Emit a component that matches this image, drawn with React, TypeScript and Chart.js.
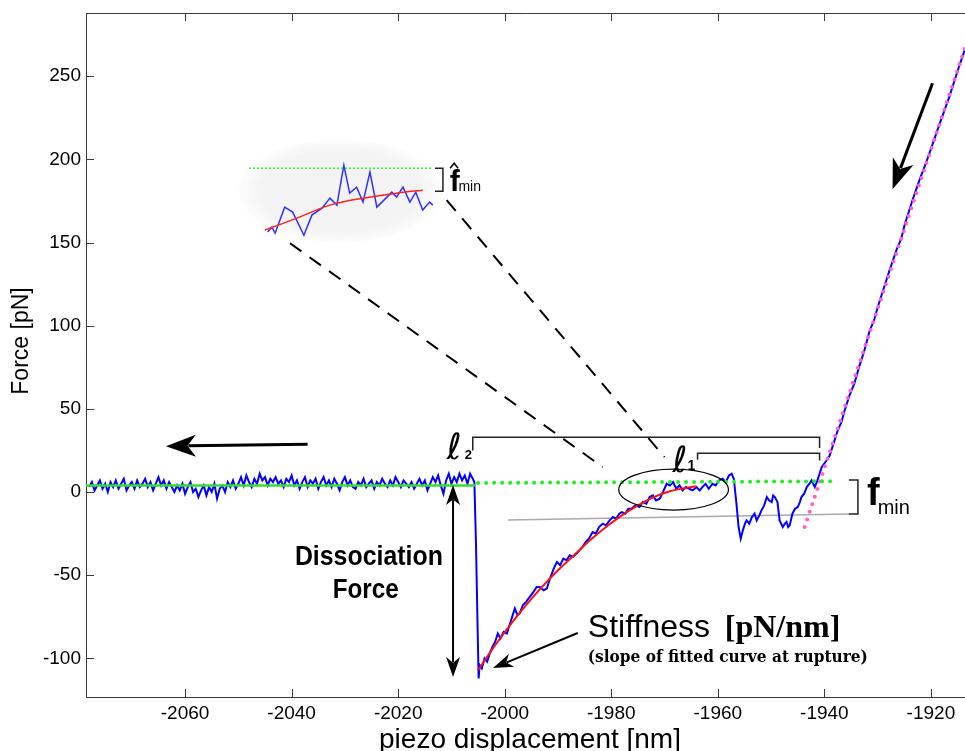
import React, { useEffect, useRef } from "react";
import { Chart, registerables } from "chart.js";
Chart.register(...registerables);

const X_MIN = -2078.6;
const X_MAX = -1913.6;
const Y_MIN = -123.2;
const Y_MAX = 288;
const X_STEP = 20;
const Y_STEP = 50;

// Blue force trace: flat baseline before rupture
const baselineX = [
  -2078, -2077.5, -2077, -2076.5, -2076, -2075.5, -2075, -2074.5, -2074, -2073.5,
  -2073, -2072.5, -2072, -2071.5, -2071, -2070.5, -2070, -2069.5, -2069, -2068.5,
  -2068, -2067.5, -2067, -2066.5, -2066, -2065.5, -2065, -2064.5, -2064, -2063.5,
  -2063, -2062.5, -2062, -2061.5, -2061, -2060.5, -2060, -2059.5, -2059, -2058.5,
  -2058, -2057.5, -2057, -2056.5, -2056, -2055.5, -2055, -2054.5, -2054, -2053.5,
  -2053, -2052.5, -2052, -2051.5, -2051, -2050.5, -2050, -2049.5, -2049, -2048.5,
  -2048, -2047.5, -2047, -2046.5, -2046, -2045.5, -2045, -2044.5, -2044, -2043.5,
  -2043, -2042.5, -2042, -2041.5, -2041, -2040.5, -2040, -2039.5, -2039, -2038.5,
  -2038, -2037.5, -2037, -2036.5, -2036, -2035.5, -2035, -2034.5, -2034, -2033.5,
  -2033, -2032.5, -2032, -2031.5, -2031, -2030.5, -2030, -2029.5, -2029, -2028.5,
  -2028, -2027.5, -2027, -2026.5, -2026, -2025.5, -2025, -2024.5, -2024, -2023.5,
  -2023, -2022.5, -2022, -2021.5, -2021, -2020.5, -2020, -2019.5, -2019, -2018.5,
  -2018, -2017.5, -2017, -2016.5, -2016, -2015.5, -2015, -2014.5, -2014, -2013.5,
  -2013, -2012.5, -2012, -2011.5, -2011, -2010.5, -2010, -2009.5, -2009, -2008.5,
  -2008, -2007.5, -2007, -2006.5, -2006,
];
const baselineY = [
  3, 6, 1, 4, 7, 2, 5, 0, 6, 3,
  7, 2, 5, 8, 1, 4, 6, 2, 7, 3,
  5, 8, 3, 6, 1, 5, 9, 4, 7, 2,
  6, 3, 0, 4, 1, 5, -1, 3, 6, 0,
  2, -3, 1, 4, -2, 3, 0, 5, -4, 2,
  4, 0, 6, 3, 7, 2, 5, 9, 4, 10,
  6, 3, 8, 5, 11, 7, 9, 4, 8, 6,
  9, 5, 7, 3, 8, 6, 10, 4, 7, 2,
  6, 9, 3, 7, 5, 8, 2, 6, 9, 4,
  7, 3, 8, 5, 1, 6, 9, 4, 7, 3,
  2, 6, 4, 8, 3, 5, 7, 2, 6, 4,
  8, 5, 3, 7, 4, 9, 6, 3, 7, 5,
  3, 6, 2, 5, 8, 4, 7, 1, 5, 9,
  6, 10, 4, -1, 7, 11, 5, 9, 6, 11,
  7, 10, 5, 11, 8,
];

// Blue force trace: rupture, stretching and approach
const ruptureX = [
  -2005.7, -2005.4, -2005.1, -2004.9, -2004.7, -2004.3, -2003.8, -2003.3, -2002.8, -2002.3,
  -2001.8, -2001.3, -2000.8, -2000.2, -1999.6, -1999.0, -1998.5, -1998.1, -1997.6, -1997.2,
  -1996.6, -1996.0, -1995.3, -1994.6, -1994.0, -1993.4, -1992.7, -1992.1, -1991.5, -1990.8,
  -1990.2, -1989.6, -1989.0, -1988.4, -1987.8, -1987.2, -1986.5, -1986.0, -1985.4, -1984.8,
  -1984.2, -1983.5, -1982.9, -1982.3, -1981.6, -1981.0, -1980.3, -1979.7, -1979.1, -1978.5,
  -1978.0, -1977.4, -1976.8, -1976.2, -1975.5, -1974.7, -1974.1, -1973.4, -1972.8, -1972.2,
  -1971.6, -1970.9, -1970.3, -1969.6, -1969.0, -1968.4, -1967.8, -1967.2, -1966.6, -1966.0,
  -1965.4, -1964.7, -1964.0, -1963.4, -1962.9, -1962.3, -1961.7, -1961.0, -1960.4, -1959.8,
  -1959.1, -1958.5, -1957.9, -1957.4, -1957.0, -1956.5, -1956.1, -1955.7, -1955.3, -1954.9,
  -1954.6, -1954.1, -1953.6, -1953.1, -1952.7, -1952.2, -1951.8, -1951.3, -1950.8, -1950.4,
  -1949.9, -1949.6, -1949.3, -1948.8, -1948.4, -1947.8, -1947.4, -1947.1, -1946.8, -1946.5,
  -1946.0, -1945.5, -1945.0, -1944.6, -1944.3, -1943.8, -1943.3, -1942.8, -1942.4, -1941.8,
  -1941.3, -1940.9, -1940.5, -1939.6, -1939.0, -1938.2, -1937.5, -1936.8, -1936.2, -1935.3,
  -1934.4, -1933.4, -1932.5, -1931.5, -1930.7, -1930.0, -1929.0, -1927.8, -1926.4, -1925.6,
  -1924.9, -1924.1, -1923.4, -1922.1, -1920.9, -1919.7, -1918.4, -1917.5, -1916.5, -1915.5,
  -1914.6, -1913.5,
];
const ruptureY = [
  6, -30, -80, -112, -104, -106, -100, -102, -97, -93,
  -90, -85, -88, -84, -85, -79, -74, -70, -74, -73,
  -68, -66, -63, -60, -57, -57, -59, -58, -52, -46,
  -42, -44, -40, -41, -38, -39, -37, -35, -33, -30,
  -28, -24, -25, -21, -19, -20, -17, -15, -16, -13,
  -12, -13, -10, -10, -8, -9, -6, -7, -3, -2,
  -5, -4, 0, 5, 4, 6, 2, 4, 1, 3,
  2, 1, 3, 1, 3, 5, 2, 5, 4, 7,
  8, 6, 10, 11, 8, -7, -21, -28, -23, -19,
  -17, -19, -15, -13, -17, -14, -11, -8, -3, -5,
  -6, -2, -3, -6, -17, -21, -19, -18, -21, -20,
  -13, -10, -9, -6, -3, -1, 3, 5, 7, 3,
  7, 11, 15, 19, 22, 30, 37, 42, 49, 58,
  65, 76, 85, 97, 103, 111, 121, 133, 146, 152,
  161, 169, 176, 188, 198, 209, 221, 229, 238, 248,
  257, 267,
];

// Red fitted curve
const fitX = [-2005, -2002, -1999, -1996, -1993, -1990, -1987, -1984, -1981, -1978, -1975, -1972, -1969, -1966, -1964];
const fitY = [-107, -93, -80, -68, -57, -47, -38, -29, -21, -14, -8, -3, 0.5, 2.5, 3.5];

// Green baseline (solid) and its extension (dotted)
const baseSolidX = [-2078.6, -2005.6];
const baseSolidY = [4, 4];
const baseDotX = [-2005, -1938];
const baseDotY = [5.5, 6.5];

// Gray reference line
const grayX = [-1999.4, -1935.3];
const grayY = [-16.8, -13.2];

// Pink dotted linear fit of the approach segment
const pinkX = [-1943.7, -1913.6];
const pinkY = [-21, 267];

// Inset (magnified view of the circled region)
const insetBlueX = [-2044.5, -2043.7, -2043.1, -2041.3, -2039.8, -2037.7, -2036.2, -2034.3, -2032.8, -2031.5, -2030.2, -2029.1, -2027.8, -2026.6, -2025.3, -2024.0, -2022.1, -2021.2, -2020.3, -2019.1, -2017.8, -2016.7, -2015.4, -2014.1, -2013.5];
const insetBlueY = [156.3, 159.3, 155.6, 171.3, 168.3, 154.4, 166.5, 170.7, 176.7, 172.5, 196.5, 179.7, 183.3, 174.3, 192.3, 171.3, 177.3, 180.3, 177.3, 183.3, 174.3, 180.3, 169.5, 174.3, 172.5];
const insetRedX = [-2045.0, -2039.0, -2032.8, -2026.6, -2020.3, -2015.4];
const insetRedY = [157.5, 164.7, 172.5, 176.7, 179.7, 181.5];
const insetGreenX = [-2047.8, -2013.7];
const insetGreenY = [194.7, 194.7];

const zip = (xs: number[], ys: number[]) => xs.map((x, i) => ({ x, y: ys[i] }));

const SANS = '"Liberation Sans", Arial, sans-serif';
const SERIF = '"Liberation Serif", "Times New Roman", serif';

function drawArrow(ctx: CanvasRenderingContext2D, x1: number, y1: number, x2: number, y2: number, lw: number, hl: number, hw: number) {
  const ang = Math.atan2(y2 - y1, x2 - x1);
  const bx = x2 - Math.cos(ang) * hl * 0.75;
  const by = y2 - Math.sin(ang) * hl * 0.75;
  ctx.lineWidth = lw;
  ctx.setLineDash([]);
  ctx.beginPath();
  ctx.moveTo(x1, y1);
  ctx.lineTo(bx, by);
  ctx.stroke();
  ctx.save();
  ctx.translate(x2, y2);
  ctx.rotate(ang);
  ctx.beginPath();
  ctx.moveTo(0, 0);
  ctx.lineTo(-hl, -hw / 2);
  ctx.lineTo(-hl * 0.72, 0);
  ctx.lineTo(-hl, hw / 2);
  ctx.closePath();
  ctx.fill();
  ctx.restore();
}

const annotPlugin = {
  id: "annot",
  beforeDatasetsDraw(chart: any) {
    const { ctx, scales } = chart;
    const X = (v: number) => scales.x.getPixelForValue(v);
    const Y = (v: number) => scales.y.getPixelForValue(v);
    const cx = X(-2030.9), cy = Y(181);
    const rx = X(-2030.9 + 19) - cx, ry = cy - Y(181 + 31);
    ctx.save();
    ctx.translate(cx, cy);
    ctx.scale(rx, ry);
    const g = ctx.createRadialGradient(0, 0, 0, 0, 0, 1);
    g.addColorStop(0, "#f3f3f3");
    g.addColorStop(0.8, "#f4f4f4");
    g.addColorStop(1, "rgba(250,250,250,0.6)");
    ctx.fillStyle = g;
    ctx.beginPath();
    ctx.arc(0, 0, 1, 0, Math.PI * 2);
    ctx.fill();
    ctx.restore();
  },
  afterDraw(chart: any) {
    const { ctx, scales, chartArea } = chart;
    const X = (v: number) => scales.x.getPixelForValue(v);
    const Y = (v: number) => scales.y.getPixelForValue(v);
    ctx.save();
    ctx.strokeStyle = "#3a3a3a";
    ctx.lineWidth = 1;
    ctx.beginPath();
    ctx.moveTo(chartArea.left, chartArea.top + 0.5);
    ctx.lineTo(chartArea.right, chartArea.top + 0.5);
    ctx.stroke();
    ctx.beginPath();
    scales.x.ticks.forEach((t: any) => {
      const px = Math.round(X(t.value)) + 0.5;
      ctx.moveTo(px, chartArea.bottom);
      ctx.lineTo(px, chartArea.bottom - 8);
      ctx.moveTo(px, chartArea.top);
      ctx.lineTo(px, chartArea.top + 8);
    });
    scales.y.ticks.forEach((t: any) => {
      const py = Math.round(Y(t.value)) + 0.5;
      ctx.moveTo(chartArea.left, py);
      ctx.lineTo(chartArea.left + 8, py);
    });
    ctx.stroke();

    ctx.strokeStyle = "#000";
    ctx.fillStyle = "#000";

    ctx.lineWidth = 1.2;
    ctx.beginPath();
    ctx.ellipse(X(-1968.3), Y(1.5), X(-1968.3 + 10.3) - X(-1968.3), Y(1.5) - Y(1.5 + 12.3), 0, 0, Math.PI * 2);
    ctx.stroke();

    ctx.lineWidth = 2;
    ctx.setLineDash([14, 10]);
    ctx.beginPath();
    ctx.moveTo(X(-2040.3), Y(149.6));
    ctx.lineTo(X(-1981.6), Y(15.0));
    ctx.moveTo(X(-2010.9), Y(175.5));
    ctx.lineTo(X(-1970.0), Y(21.0));
    ctx.stroke();
    ctx.setLineDash([]);

    ctx.lineWidth = 1.5;
    ctx.strokeStyle = "#222";
    ctx.beginPath();
    ctx.moveTo(X(-2006.0), Y(25));
    ctx.lineTo(X(-2006.0), Y(33));
    ctx.lineTo(X(-1940.9), Y(33));
    ctx.lineTo(X(-1940.9), Y(26.5));
    ctx.moveTo(X(-1963.8), Y(19.5));
    ctx.lineTo(X(-1963.8), Y(23.4));
    ctx.lineTo(X(-1940.9), Y(23.4));
    ctx.lineTo(X(-1940.9), Y(19));
    ctx.moveTo(X(-1935.4), Y(7.2));
    ctx.lineTo(X(-1933.7), Y(7.2));
    ctx.lineTo(X(-1933.7), Y(-13.2));
    ctx.lineTo(X(-1935.4), Y(-13.2));
    ctx.moveTo(X(-2013.1), Y(194.7));
    ctx.lineTo(X(-2011.6), Y(194.7));
    ctx.lineTo(X(-2011.6), Y(180.9));
    ctx.lineTo(X(-2013.1), Y(180.9));
    ctx.stroke();

    ctx.strokeStyle = "#000";
    drawArrow(ctx, X(-2037.0), Y(28.8), X(-2063.6), Y(27.6), 3, 30, 22);
    drawArrow(ctx, X(-1919.7), Y(245.8), X(-1927.2), Y(182.1), 3, 30, 22);
    drawArrow(ctx, X(-1986.3), Y(-84.7), X(-2002.2), Y(-105.8), 2, 20, 14);
    const dx = X(-2009.7), dt = Y(4.2), db = Y(-111.2);
    drawArrow(ctx, dx, (dt + db) / 2, dx, dt, 2, 20, 14);
    drawArrow(ctx, dx, (dt + db) / 2, dx, db, 2, 20, 14);

    ctx.textBaseline = "alphabetic";
    ctx.textAlign = "center";
    ctx.font = `bold 28px ${SANS}`;
    ctx.fillText("Dissociation", X(-2025.5), Y(-43.9), 148);
    ctx.fillText("Force", X(-2026.1), Y(-63.7), 66);

    ctx.textAlign = "left";
    ctx.font = `32px ${SANS}`;
    ctx.fillText("Stiffness", X(-1984.4), Y(-87.1));
    ctx.font = `bold 32px ${SERIF}`;
    ctx.fillText("[pN/nm]", X(-1958.7), Y(-87.1), 118);
    ctx.font = `bold 16px "DejaVu Serif", serif`;
    ctx.fillText("(slope of fitted curve at rupture)", X(-1984.4), Y(-102.2), 280);

    ctx.font = `36px "DejaVu Sans", sans-serif`;
    ctx.fillText("\u2113", X(-2010.9), Y(19.8), 20);
    ctx.fillText("\u2113", X(-1968.5), Y(12), 16);
    ctx.font = `bold 13px ${SANS}`;
    ctx.fillText("2", X(-2007.5), Y(19.8));
    ctx.font = `bold 14px ${SANS}`;
    ctx.fillText("1", X(-1965.7), Y(13));

    ctx.font = `bold 38px ${SANS}`;
    ctx.fillText("f", X(-1932.0), Y(-7.8));
    ctx.font = `20px ${SANS}`;
    ctx.fillText("min", X(-1930.0), Y(-13.2));

    ctx.font = `bold 30px ${SANS}`;
    ctx.fillText("f", X(-2010.3), Y(180.9));
    ctx.font = `14px ${SANS}`;
    ctx.fillText("min", X(-2008.7), Y(180.9));
    ctx.lineWidth = 1.5;
    ctx.beginPath();
    const hx = X(-2009.5), hy = Y(196.5);
    ctx.moveTo(hx - 4, hy + 3);
    ctx.lineTo(hx, hy - 2);
    ctx.lineTo(hx + 4, hy + 3);
    ctx.stroke();

    ctx.font = `28px ${SANS}`;
    ctx.textAlign = "center";
    ctx.fillText("piezo displacement [nm]", 530, 748);
    ctx.save();
    ctx.translate(28, 341);
    ctx.rotate(-Math.PI / 2);
    ctx.font = `23px ${SANS}`;
    ctx.fillText("Force [pN]", 0, 0);
    ctx.restore();

    ctx.restore();
  },
};

export default function App() {
  const ref = useRef<HTMLCanvasElement | null>(null);
  useEffect(() => {
    if (!ref.current) return;
    const chart = new Chart(ref.current, {
      type: "line",
      data: {
        datasets: [
          {
            label: "green dotted",
            data: zip(baseDotX, baseDotY),
            borderColor: "#22ee22",
            borderWidth: 4,
            borderDash: [0, 8],
            borderCapStyle: "round",
            pointRadius: 0,
            order: 1,
          },
          {
            label: "pink fit",
            data: zip(pinkX, pinkY),
            borderColor: "#ff5fd0",
            borderWidth: 4,
            borderDash: [0, 8],
            borderCapStyle: "round",
            pointRadius: 0,
            order: 2,
          },
          {
            label: "red fit",
            data: zip(fitX, fitY),
            borderColor: "#ff1010",
            borderWidth: 2,
            tension: 0.4,
            cubicInterpolationMode: "monotone",
            pointRadius: 0,
            order: 3,
          },
          {
            label: "green solid",
            data: zip(baseSolidX, baseSolidY),
            borderColor: "#33dd33",
            borderWidth: 2.5,
            pointRadius: 0,
            order: 4,
          },
          {
            label: "trace",
            data: zip(baselineX.concat(ruptureX), baselineY.concat(ruptureY)),
            borderColor: "#0000ff",
            borderWidth: 2,
            tension: 0,
            pointRadius: 0,
            order: 5,
          },
          {
            label: "gray",
            data: zip(grayX, grayY),
            borderColor: "#aaaaaa",
            borderWidth: 1.5,
            pointRadius: 0,
            order: 6,
          },
          {
            label: "inset green",
            data: zip(insetGreenX, insetGreenY),
            borderColor: "#33ee33",
            borderWidth: 2,
            borderDash: [0, 4],
            borderCapStyle: "round",
            pointRadius: 0,
            order: 7,
          },
          {
            label: "inset red",
            data: zip(insetRedX, insetRedY),
            borderColor: "#ff2020",
            borderWidth: 1.5,
            tension: 0.4,
            cubicInterpolationMode: "monotone",
            pointRadius: 0,
            order: 7,
          },
          {
            label: "inset blue",
            data: zip(insetBlueX, insetBlueY),
            borderColor: "#3030ff",
            borderWidth: 1.5,
            pointRadius: 0,
            order: 8,
          },
        ],
      },
      options: {
        responsive: false,
        animation: false,
        devicePixelRatio: 1,
        layout: { padding: { top: 13, right: 0, left: 0, bottom: 0 } },
        plugins: { legend: { display: false }, tooltip: { enabled: false }, title: { display: false } },
        scales: {
          x: {
            type: "linear",
            min: X_MIN,
            max: X_MAX,
            grid: { display: true, drawOnChartArea: false, drawTicks: false },
            border: { display: true, color: "#3a3a3a", width: 1 },
            ticks: {
              stepSize: X_STEP,
              includeBounds: false,
              color: "#000",
              padding: 5,
              maxRotation: 0,
              font: { family: SANS, size: 19 },
              callback: (v: any) => String(v),
            },
            afterFit: (s: any) => {
              s.height = 54;
              s.paddingLeft = 0;
              s.paddingRight = 0;
            },
          },
          y: {
            type: "linear",
            min: Y_MIN,
            max: Y_MAX,
            grid: { display: true, drawOnChartArea: false, drawTicks: false },
            border: { display: true, color: "#3a3a3a", width: 1 },
            ticks: {
              stepSize: Y_STEP,
              includeBounds: false,
              color: "#000",
              padding: 5,
              font: { family: SANS, size: 19 },
              callback: (v: any) => String(v),
            },
            afterFit: (s: any) => {
              s.width = 86;
              s.paddingTop = 0;
              s.paddingBottom = 0;
            },
          },
        },
      },
      plugins: [annotPlugin],
    } as any);
    return () => chart.destroy();
  }, []);
  return (
    <div style={{ position: "absolute", left: 0, top: 0, width: 965, height: 751, background: "#fff" }}>
      <canvas ref={ref} width={965} height={751} style={{ display: "block" }} />
    </div>
  );
}
